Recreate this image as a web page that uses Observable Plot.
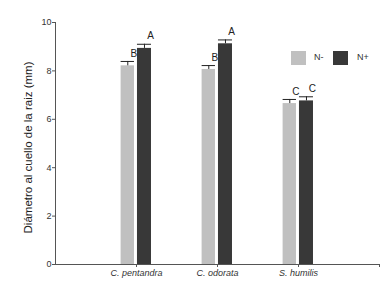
<!DOCTYPE html>
<html>
<head>
<meta charset="utf-8">
<script src="https://cdn.jsdelivr.net/npm/d3@7"></script>
<script src="https://cdn.jsdelivr.net/npm/@observablehq/plot@0.6"></script>
<style>
  html, body { margin: 0; padding: 0; background: #fff; }
  #wrap { position: relative; width: 391px; height: 283px; font-family: "Liberation Sans", Arial, sans-serif; }
  .leg { position: absolute; font-size: 9px; color: #333; }
  .sw { position: absolute; width: 15px; height: 14px; }
</style>
</head>
<body>
<div id="wrap"></div>
<script>
const species = ["C. pentandra", "C. odorata", "S. humilis"];
const treatments = ["N-", "N+"];
const meansNminus = [8.21, 8.06, 6.65];
const meansNplus = [8.93, 9.12, 6.76];
const errNminus = [0.18, 0.16, 0.17];
const errNplus = [0.17, 0.16, 0.17];
const lettersNminus = ["B", "B", "C"];
const lettersNplus = ["A", "A", "C"];
const yTicks = [0, 2, 4, 6, 8, 10];
const yLabel = "Diámetro al cuello de la raiz (mm)";
const colors = ["#c0c0c0", "#383838"];

const data = [];
species.forEach((s, i) => {
  data.push({species: s, idx: i + 1, trt: "N-", mean: meansNminus[i], err: errNminus[i], letter: lettersNminus[i]});
  data.push({species: s, idx: i + 1, trt: "N+", mean: meansNplus[i], err: errNplus[i], letter: lettersNplus[i]});
});

// bar placement within a group (in x-scale units)
const x1 = d => d.trt === "N-" ? d.idx - 0.19 : d.idx + 0.012;
const x2 = d => d.trt === "N-" ? d.idx - 0.025 : d.idx + 0.185;
const xc = d => (x1(d) + x2(d)) / 2;

const chart = Plot.plot({
  width: 391,
  height: 283,
  marginLeft: 55,
  marginRight: 12,
  marginTop: 22,
  marginBottom: 19,
  style: {fontFamily: "Liberation Sans, Arial, sans-serif", color: "#333", background: "#fff"},
  x: {domain: [0, 4]},
  y: {domain: [0, 10]},
  color: {domain: treatments, range: colors},
  marks: [
    Plot.rectY(data, {x1, x2, y1: 0, y2: "mean", fill: "trt"}),
    Plot.ruleX(data, {x: xc, y1: "mean", y2: d => d.mean + d.err, stroke: "#222", strokeWidth: 1}),
    Plot.ruleY(data, {x1, x2, y: d => d.mean + d.err, stroke: "#222", strokeWidth: 1}),
    Plot.text(data, {x: xc, y: d => d.mean + d.err, text: "letter", dx: 6, dy: -8, fontSize: 10, fill: "#222"}),
    Plot.axisY({ticks: yTicks, tickSize: 3, tickPadding: 1, fontSize: 9, stroke: "#555", label: null}),
    Plot.text([yLabel], {text: d => d, frameAnchor: "left", textAnchor: "middle", rotate: -90, dx: -27, dy: 4, fontSize: 11.5, fill: "#222"}),
    Plot.axisX({ticks: [1, 2, 3, 4], tickSize: 3, tickPadding: 2, fontSize: 9, fontStyle: "italic", stroke: "#555",
      tickFormat: v => species[v - 1] ?? "", label: null}),
    Plot.ruleY([0], {stroke: "#555"}),
    Plot.ruleX([0], {stroke: "#555"})
  ]
});

const wrap = document.getElementById("wrap");
wrap.appendChild(chart);

// legend
const legend = [
  {label: treatments[0], color: colors[0], sx: 291, tx: 314},
  {label: treatments[1], color: colors[1], sx: 333, tx: 357}
];
legend.forEach(l => {
  const sw = document.createElement("div");
  sw.className = "sw";
  sw.style.left = l.sx + "px"; sw.style.top = "51px"; sw.style.background = l.color;
  wrap.appendChild(sw);
  const t = document.createElement("div");
  t.className = "leg";
  t.style.left = l.tx + "px"; t.style.top = "52px";
  t.textContent = l.label;
  wrap.appendChild(t);
});
</script>
</body>
</html>
